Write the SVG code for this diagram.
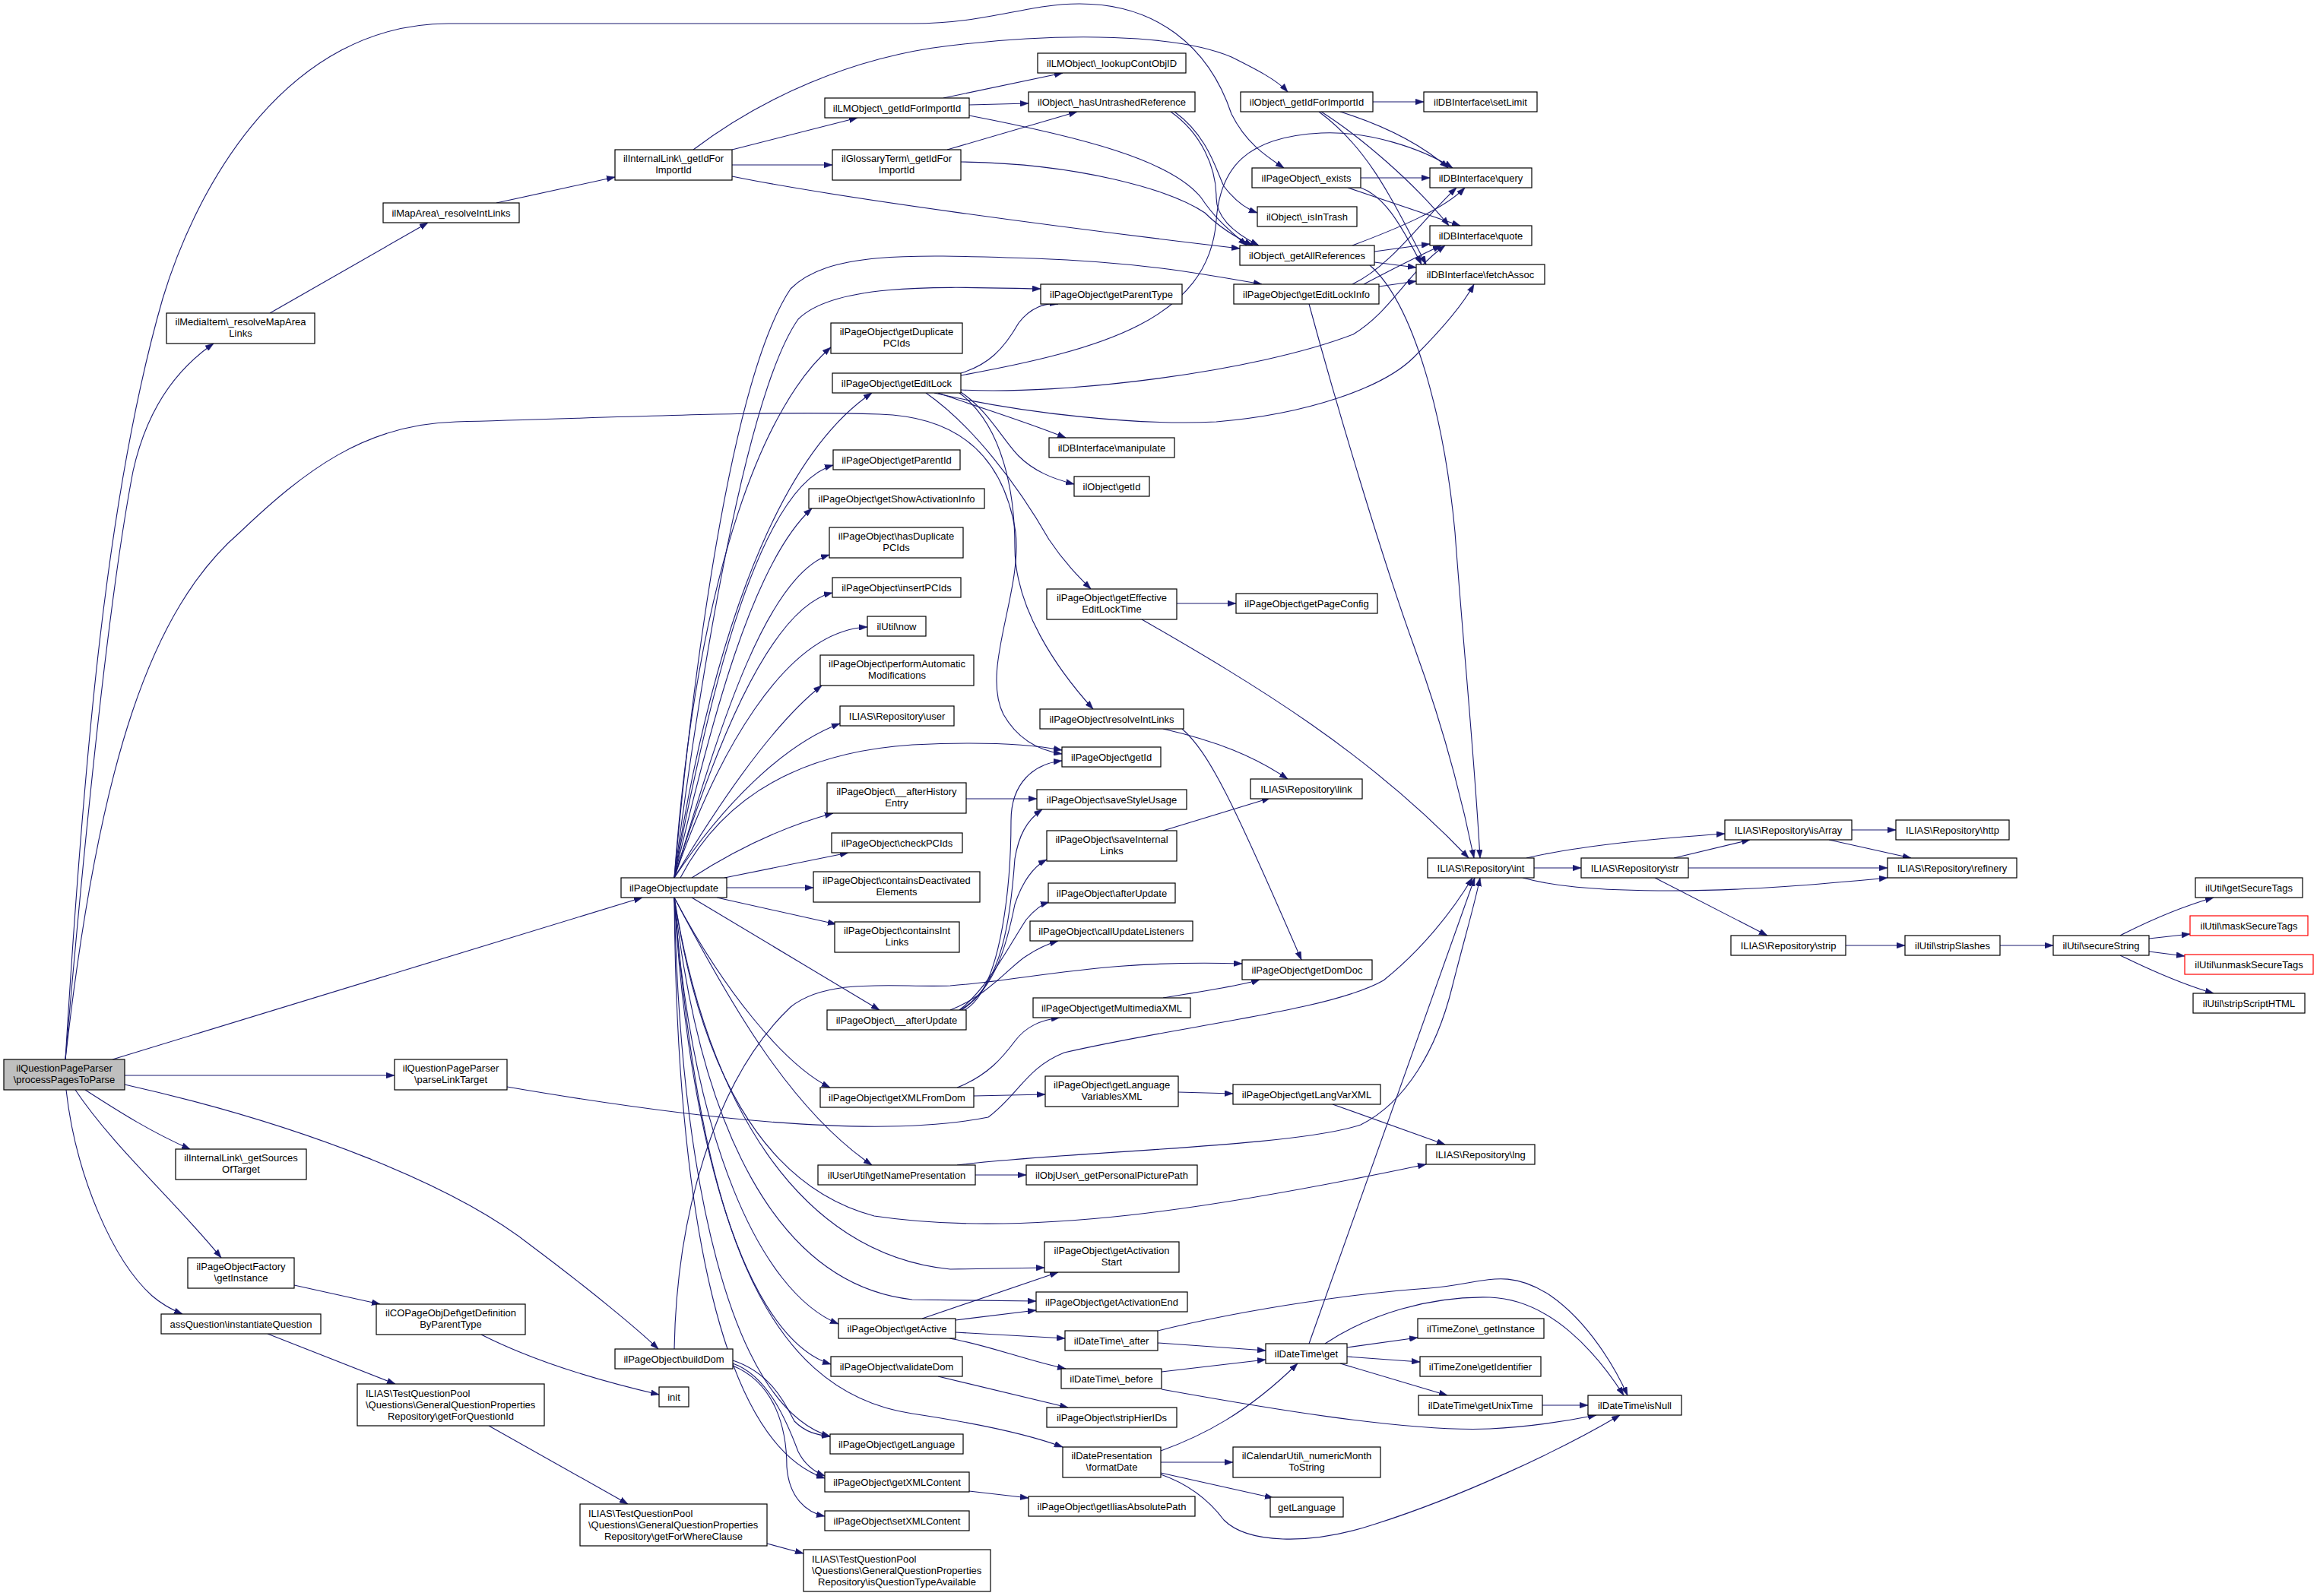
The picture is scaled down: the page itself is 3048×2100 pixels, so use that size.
<svg xmlns="http://www.w3.org/2000/svg" width="3048" height="2100" viewBox="0 0 3048 2100">
<defs>
<marker id="a" viewBox="0 0 10 7" refX="10" refY="3.5" markerWidth="11" markerHeight="8" markerUnits="userSpaceOnUse" orient="auto"><path d="M0,0 L10,3.5 L0,7 z" fill="#191970" stroke="#191970" stroke-width="0.5"/></marker>
</defs>
<style>
.n rect{fill:#ffffff;stroke:#000000;stroke-width:1.2}
.n.g rect{fill:#bfbfbf}
.n.r rect{stroke:#ff0000}
text{font-family:"Liberation Sans",Arial,Helvetica,sans-serif;font-size:13px;fill:#000000;text-anchor:middle}
text.l{text-anchor:start}
#edges path{fill:none;stroke:#191970;stroke-width:1.1;marker-end:url(#a)}
</style>
<rect x="0" y="0" width="3048" height="2100" fill="#ffffff"/>
<g id="edges">
<path d="M86,1394 C110,1000 140,650 214,393 C260,240 380,31 590,31 L1200,31 C1300,31 1350,5 1420,5 C1520,5 1590,60 1620,150 C1640,190 1668,207 1689,221"/>
<path d="M86,1394 C120,1000 150,750 175,620 C195,530 240,480 281,452"/>
<path d="M86,1394 C130,1000 200,800 316,700 C400,620 480,558 600,555 C800,550 1000,540 1157,545 C1260,548 1320,600 1336,700 C1345,780 1290,880 1320,940 C1340,975 1370,988 1397,992"/>
<path d="M148,1394 L845,1181"/>
<path d="M164,1415 L519,1415"/>
<path d="M112,1434 C160,1465 200,1490 250,1512"/>
<path d="M99,1434 C150,1510 230,1580 291,1655"/>
<path d="M87,1434 C100,1550 150,1660 200,1705 C215,1718 228,1724 240,1729"/>
<path d="M164,1427 C400,1480 600,1560 700,1640 C780,1700 840,1750 866,1775"/>
<path d="M667,1430 C900,1470 1150,1500 1300,1470 C1340,1440 1350,1405 1400,1385 C1550,1350 1750,1330 1820,1290 C1870,1250 1910,1200 1937,1155"/>
<path d="M387,1691 L500,1716"/>
<path d="M633,1756 C700,1790 780,1815 867,1835"/>
<path d="M352,1755 L520,1821"/>
<path d="M643,1876 L826,1979"/>
<path d="M1009,2031 L1057,2044"/>
<path d="M355,412 L563,293"/>
<path d="M653,267 L809,233"/>
<path d="M963,197 L1128,155"/>
<path d="M963,217 L1095,217"/>
<path d="M912,197 C1000,130 1120,75 1250,60 C1400,42 1550,45 1620,75 C1650,90 1680,105 1694,121"/>
<path d="M963,232 C1100,260 1400,300 1631,327"/>
<path d="M1241,129 L1398,96"/>
<path d="M1275,138 L1353,136"/>
<path d="M1246,197 L1417,147"/>
<path d="M1275,152 C1420,180 1540,210 1580,260 C1600,290 1620,305 1640,323"/>
<path d="M1264,213 C1420,215 1540,250 1585,280 C1605,300 1625,312 1648,323"/>
<path d="M1540,147 C1580,175 1600,220 1600,260 C1600,290 1630,310 1656,323"/>
<path d="M1545,147 C1590,180 1600,225 1610,245 C1625,265 1640,275 1654,280"/>
<path d="M1264,491 C1300,480 1320,460 1340,425 C1355,405 1375,398 1392,400"/>
<path d="M1264,494 C1450,460 1590,420 1600,290 C1605,220 1640,180 1738,175 C1800,172 1870,195 1911,221"/>
<path d="M1264,513 C1400,520 1650,490 1780,440 C1830,410 1850,360 1901,323"/>
<path d="M1229,517 C1350,545 1500,560 1600,555 C1720,545 1820,510 1860,470 C1900,430 1925,400 1939,374"/>
<path d="M1234,517 C1300,540 1350,555 1402,576"/>
<path d="M1264,516 C1300,540 1320,580 1340,600 C1360,620 1385,630 1413,637"/>
<path d="M1262,517 C1320,560 1335,650 1335,720 C1335,800 1390,880 1438,933"/>
<path d="M1218,517 C1280,560 1340,640 1380,710 C1400,740 1420,760 1435,775"/>
<path d="M1806,134 L1873,134"/>
<path d="M1763,147 C1820,165 1870,190 1905,221"/>
<path d="M1738,147 C1790,180 1860,240 1906,297"/>
<path d="M1735,147 C1800,195 1830,260 1876,348"/>
<path d="M1790,234 L1881,234"/>
<path d="M1773,247 L1921,297"/>
<path d="M1790,247 C1820,258 1840,290 1870,348"/>
<path d="M1779,323 C1840,300 1900,275 1927,247"/>
<path d="M1808,331 L1881,321"/>
<path d="M1808,345 L1863,352"/>
<path d="M1802,349 C1860,400 1900,550 1914,700 C1925,850 1940,1000 1947,1129"/>
<path d="M1779,374 C1830,350 1870,290 1916,247"/>
<path d="M1794,374 C1830,355 1870,335 1896,323"/>
<path d="M1814,377 L1863,370"/>
<path d="M1722,400 C1760,540 1820,740 1860,850 C1900,960 1925,1060 1939,1129"/>
<path d="M887,1155 C910,900 960,500 1040,380 C1090,330 1200,335 1360,340 C1500,345 1580,360 1660,374"/>
<path d="M887,1155 C920,900 980,520 1050,420 C1100,370 1250,378 1369,380"/>
<path d="M887,1155 C918,736 1011,527 1093,457"/>
<path d="M887,1155 C930,880 1010,610 1147,517"/>
<path d="M887,1155 C935,900 1000,640 1096,612"/>
<path d="M887,1155 C935,950 990,740 1068,669"/>
<path d="M887,1155 C935,1000 1000,760 1091,730"/>
<path d="M887,1155 C935,1000 1010,800 1095,780"/>
<path d="M887,1155 C940,1000 1030,830 1141,825"/>
<path d="M887,1155 C950,1050 1020,950 1081,902"/>
<path d="M887,1155 C950,1060 1030,980 1105,952"/>
<path d="M895,1155 C950,1050 1050,990 1200,980 C1300,975 1360,980 1397,987"/>
<path d="M910,1155 C980,1110 1040,1085 1096,1070"/>
<path d="M953,1155 L1116,1122"/>
<path d="M956,1168 L1070,1168"/>
<path d="M943,1181 L1100,1216"/>
<path d="M910,1181 L1157,1329"/>
<path d="M887,1181 C950,1300 1030,1400 1092,1431"/>
<path d="M887,1181 C960,1320 1040,1460 1147,1533"/>
<path d="M887,1181 C920,1400 1000,1560 1150,1600 C1350,1630 1600,1590 1876,1532"/>
<path d="M887,1181 C930,1450 1050,1650 1250,1670 L1374,1668"/>
<path d="M887,1181 C920,1480 1020,1690 1200,1710 L1363,1712"/>
<path d="M887,1181 C910,1500 1000,1700 1103,1742"/>
<path d="M887,1181 C905,1500 980,1760 1093,1795"/>
<path d="M887,1181 C895,1550 960,1850 1092,1890"/>
<path d="M887,1181 C890,1600 950,1900 1085,1945"/>
<path d="M887,1181 C920,1600 1000,1830 1200,1860 C1300,1875 1360,1890 1398,1904"/>
<path d="M964,1790 C1010,1805 1030,1840 1045,1870 C1060,1885 1075,1888 1092,1890"/>
<path d="M964,1794 C1010,1810 1035,1870 1050,1910 C1060,1930 1075,1938 1085,1942"/>
<path d="M964,1797 C1020,1820 1035,1880 1035,1930 C1038,1970 1060,1990 1085,1995"/>
<path d="M887,1775 C890,1600 940,1420 1040,1325 C1090,1285 1180,1300 1250,1297 C1350,1290 1450,1262 1634,1268"/>
<path d="M1269,1329 C1320,1300 1330,1150 1330,1080 C1330,1030 1360,1005 1397,1001"/>
<path d="M1262,1329 C1320,1300 1330,1200 1335,1130 C1340,1100 1350,1080 1371,1065"/>
<path d="M1265,1329 C1310,1300 1325,1240 1335,1190 C1345,1160 1360,1140 1377,1131"/>
<path d="M1262,1329 C1300,1300 1330,1240 1350,1210 C1360,1198 1370,1190 1380,1187"/>
<path d="M1250,1329 C1300,1310 1330,1270 1350,1258 C1365,1248 1378,1242 1392,1238"/>
<path d="M1271,1051 L1364,1051"/>
<path d="M1548,794 L1626,794"/>
<path d="M1502,815 C1650,900 1800,990 1932,1129"/>
<path d="M1530,959 C1600,975 1650,995 1694,1025"/>
<path d="M1555,959 C1590,990 1620,1050 1712,1263"/>
<path d="M1530,1093 L1671,1050"/>
<path d="M1530,1313 C1580,1305 1640,1295 1657,1289"/>
<path d="M1259,1431 C1300,1415 1320,1390 1335,1370 C1350,1350 1370,1342 1394,1339"/>
<path d="M1281,1442 L1375,1440"/>
<path d="M1550,1437 L1622,1439"/>
<path d="M1753,1453 L1901,1506"/>
<path d="M1283,1546 L1350,1546"/>
<path d="M1259,1533 C1400,1515 1700,1510 1790,1480 C1850,1450 1890,1380 1910,1300 C1925,1240 1940,1190 1947,1155"/>
<path d="M1722,1768 C1780,1600 1860,1380 1940,1155"/>
<path d="M1213,1735 L1392,1674"/>
<path d="M1257,1737 L1363,1724"/>
<path d="M1257,1753 L1401,1761"/>
<path d="M1249,1761 C1300,1770 1350,1790 1402,1801"/>
<path d="M1234,1811 L1405,1852"/>
<path d="M1523,1767 L1665,1777"/>
<path d="M1523,1751 C1650,1720 1800,1700 1880,1695 C1950,1690 1980,1665 2040,1705 C2090,1740 2125,1800 2141,1836"/>
<path d="M1528,1805 L1665,1789"/>
<path d="M1528,1828 C1650,1850 1850,1885 1960,1880 C2020,1877 2070,1868 2100,1862"/>
<path d="M1527,1909 C1580,1890 1640,1860 1707,1794"/>
<path d="M1527,1924 L1622,1924"/>
<path d="M1527,1938 L1675,1971"/>
<path d="M1527,1940 C1570,1955 1595,1980 1610,2000 C1640,2030 1720,2035 1810,2005 C1920,1970 2050,1910 2131,1862"/>
<path d="M1743,1768 C1800,1730 1880,1705 1960,1707 C2040,1710 2100,1780 2136,1836"/>
<path d="M1772,1773 L1865,1760"/>
<path d="M1772,1785 L1868,1792"/>
<path d="M1763,1794 L1904,1836"/>
<path d="M2029,1849 L2089,1849"/>
<path d="M1275,1962 L1353,1971"/>
<path d="M2018,1142 L2080,1142"/>
<path d="M2008,1129 C2060,1117 2150,1105 2269,1097"/>
<path d="M2003,1155 C2040,1165 2090,1172 2200,1172 C2300,1172 2400,1163 2483,1155"/>
<path d="M2202,1129 L2302,1105"/>
<path d="M2221,1142 L2483,1142"/>
<path d="M2177,1155 L2325,1231"/>
<path d="M2436,1092 L2494,1092"/>
<path d="M2406,1105 L2514,1129"/>
<path d="M2428,1244 L2506,1244"/>
<path d="M2631,1244 L2701,1244"/>
<path d="M2789,1231 C2830,1210 2870,1193 2912,1181"/>
<path d="M2827,1235 L2881,1229"/>
<path d="M2827,1252 L2874,1258"/>
<path d="M2789,1257 C2830,1277 2870,1295 2912,1307"/>
</g>
<g id="n_P" class="n g"><rect x="5" y="1394" width="159" height="40"/><text x="84.5" y="1410">ilQuestionPageParser</text><text x="84.5" y="1425">\processPagesToParse</text></g>
<g id="n_parseLinkTarget" class="n"><rect x="519" y="1394" width="148" height="40"/><text x="593" y="1410">ilQuestionPageParser</text><text x="593" y="1425">\parseLinkTarget</text></g>
<g id="n_getSourcesOfTarget" class="n"><rect x="231" y="1512" width="172" height="40"/><text x="317" y="1528">ilInternalLink\_getSources</text><text x="317" y="1543">OfTarget</text></g>
<g id="n_getInstance" class="n"><rect x="247" y="1655" width="140" height="40"/><text x="317" y="1671">ilPageObjectFactory</text><text x="317" y="1686">\getInstance</text></g>
<g id="n_instantiateQuestion" class="n"><rect x="212" y="1729" width="210" height="26"/><text x="317" y="1746.5">assQuestion\instantiateQuestion</text></g>
<g id="n_getDefinition" class="n"><rect x="495" y="1716" width="196" height="40"/><text x="593" y="1732">ilCOPageObjDef\getDefinition</text><text x="593" y="1747">ByParentType</text></g>
<g id="n_getForQuestionId" class="n"><rect x="470" y="1821" width="246" height="55"/><text class="l" x="481" y="1837.5">ILIAS\TestQuestionPool</text><text class="l" x="481" y="1852.5">\Questions\GeneralQuestionProperties</text><text x="593" y="1867.5">Repository\getForQuestionId</text></g>
<g id="n_getForWhereClause" class="n"><rect x="763" y="1979" width="246" height="55"/><text class="l" x="774" y="1995.5">ILIAS\TestQuestionPool</text><text class="l" x="774" y="2010.5">\Questions\GeneralQuestionProperties</text><text x="886" y="2025.5">Repository\getForWhereClause</text></g>
<g id="n_isQuestionTypeAvailable" class="n"><rect x="1057" y="2039" width="246" height="55"/><text class="l" x="1068" y="2055.5">ILIAS\TestQuestionPool</text><text class="l" x="1068" y="2070.5">\Questions\GeneralQuestionProperties</text><text x="1180" y="2085.5">Repository\isQuestionTypeAvailable</text></g>
<g id="n_init" class="n"><rect x="867" y="1825" width="39" height="26"/><text x="886.5" y="1842.5">init</text></g>
<g id="n_buildDom" class="n"><rect x="809" y="1775" width="155" height="26"/><text x="886.5" y="1792.5">ilPageObject\buildDom</text></g>
<g id="n_update" class="n"><rect x="817" y="1155" width="139" height="26"/><text x="886.5" y="1172.5">ilPageObject\update</text></g>
<g id="n_mediaItem" class="n"><rect x="219" y="412" width="195" height="40"/><text x="316.5" y="428">ilMediaItem\_resolveMapArea</text><text x="316.5" y="443">Links</text></g>
<g id="n_mapArea" class="n"><rect x="504" y="267" width="179" height="26"/><text x="593.5" y="284.5">ilMapArea\_resolveIntLinks</text></g>
<g id="n_ilGetIdForImportId" class="n"><rect x="809" y="197" width="154" height="40"/><text x="886" y="213">ilInternalLink\_getIdFor</text><text x="886" y="228">ImportId</text></g>
<g id="n_lmGetIdForImportId" class="n"><rect x="1085" y="129" width="190" height="26"/><text x="1180" y="146.5">ilLMObject\_getIdForImportId</text></g>
<g id="n_lookupContObjID" class="n"><rect x="1365" y="70" width="195" height="26"/><text x="1462.5" y="87.5">ilLMObject\_lookupContObjID</text></g>
<g id="n_hasUntrashedReference" class="n"><rect x="1353" y="121" width="219" height="26"/><text x="1462.5" y="138.5">ilObject\_hasUntrashedReference</text></g>
<g id="n_glossaryGetIdForImportId" class="n"><rect x="1095" y="197" width="169" height="40"/><text x="1179.5" y="213">ilGlossaryTerm\_getIdFor</text><text x="1179.5" y="228">ImportId</text></g>
<g id="n_objGetIdForImportId" class="n"><rect x="1632" y="121" width="174" height="26"/><text x="1719" y="138.5">ilObject\_getIdForImportId</text></g>
<g id="n_setLimit" class="n"><rect x="1873" y="121" width="149" height="26"/><text x="1947.5" y="138.5">ilDBInterface\setLimit</text></g>
<g id="n_exists" class="n"><rect x="1647" y="221" width="143" height="26"/><text x="1718.5" y="238.5">ilPageObject\_exists</text></g>
<g id="n_query" class="n"><rect x="1881" y="221" width="134" height="26"/><text x="1948" y="238.5">ilDBInterface\query</text></g>
<g id="n_isInTrash" class="n"><rect x="1654" y="272" width="131" height="26"/><text x="1719.5" y="289.5">ilObject\_isInTrash</text></g>
<g id="n_quote" class="n"><rect x="1881" y="297" width="134" height="26"/><text x="1948" y="314.5">ilDBInterface\quote</text></g>
<g id="n_getAllReferences" class="n"><rect x="1631" y="323" width="177" height="26"/><text x="1719.5" y="340.5">ilObject\_getAllReferences</text></g>
<g id="n_fetchAssoc" class="n"><rect x="1863" y="348" width="169" height="26"/><text x="1947.5" y="365.5">ilDBInterface\fetchAssoc</text></g>
<g id="n_getEditLockInfo" class="n"><rect x="1623" y="374" width="191" height="26"/><text x="1718.5" y="391.5">ilPageObject\getEditLockInfo</text></g>
<g id="n_getParentType" class="n"><rect x="1369" y="374" width="186" height="26"/><text x="1462" y="391.5">ilPageObject\getParentType</text></g>
<g id="n_getDuplicatePCIds" class="n"><rect x="1093" y="425" width="173" height="40"/><text x="1179.5" y="441">ilPageObject\getDuplicate</text><text x="1179.5" y="456">PCIds</text></g>
<g id="n_getEditLock" class="n"><rect x="1095" y="491" width="169" height="26"/><text x="1179.5" y="508.5">ilPageObject\getEditLock</text></g>
<g id="n_manipulate" class="n"><rect x="1380" y="576" width="165" height="26"/><text x="1462.5" y="593.5">ilDBInterface\manipulate</text></g>
<g id="n_objGetId" class="n"><rect x="1413" y="627" width="99" height="26"/><text x="1462.5" y="644.5">ilObject\getId</text></g>
<g id="n_getParentId" class="n"><rect x="1096" y="592" width="167" height="26"/><text x="1179.5" y="609.5">ilPageObject\getParentId</text></g>
<g id="n_getShowActivationInfo" class="n"><rect x="1064" y="643" width="231" height="26"/><text x="1179.5" y="660.5">ilPageObject\getShowActivationInfo</text></g>
<g id="n_hasDuplicatePCIds" class="n"><rect x="1091" y="694" width="176" height="40"/><text x="1179" y="710">ilPageObject\hasDuplicate</text><text x="1179" y="725">PCIds</text></g>
<g id="n_insertPCIds" class="n"><rect x="1095" y="760" width="169" height="26"/><text x="1179.5" y="777.5">ilPageObject\insertPCIds</text></g>
<g id="n_now" class="n"><rect x="1141" y="811" width="77" height="26"/><text x="1179.5" y="828.5">ilUtil\now</text></g>
<g id="n_performAutomaticModifications" class="n"><rect x="1079" y="862" width="202" height="40"/><text x="1180" y="878">ilPageObject\performAutomatic</text><text x="1180" y="893">Modifications</text></g>
<g id="n_user" class="n"><rect x="1105" y="929" width="150" height="26"/><text x="1180" y="946.5">ILIAS\Repository\user</text></g>
<g id="n_getEffectiveEditLockTime" class="n"><rect x="1377" y="775" width="171" height="40"/><text x="1462.5" y="791">ilPageObject\getEffective</text><text x="1462.5" y="806">EditLockTime</text></g>
<g id="n_resolveIntLinks" class="n"><rect x="1368" y="933" width="189" height="26"/><text x="1462.5" y="950.5">ilPageObject\resolveIntLinks</text></g>
<g id="n_pageGetId" class="n"><rect x="1397" y="983" width="130" height="26"/><text x="1462" y="1000.5">ilPageObject\getId</text></g>
<g id="n_afterHistoryEntry" class="n"><rect x="1088" y="1030" width="183" height="40"/><text x="1179.5" y="1046">ilPageObject\__afterHistory</text><text x="1179.5" y="1061">Entry</text></g>
<g id="n_saveStyleUsage" class="n"><rect x="1364" y="1039" width="197" height="26"/><text x="1462.5" y="1056.5">ilPageObject\saveStyleUsage</text></g>
<g id="n_checkPCIds" class="n"><rect x="1094" y="1096" width="172" height="26"/><text x="1180" y="1113.5">ilPageObject\checkPCIds</text></g>
<g id="n_saveInternalLinks" class="n"><rect x="1377" y="1093" width="171" height="40"/><text x="1462.5" y="1109">ilPageObject\saveInternal</text><text x="1462.5" y="1124">Links</text></g>
<g id="n_containsDeactivatedElements" class="n"><rect x="1070" y="1147" width="219" height="40"/><text x="1179.5" y="1163">ilPageObject\containsDeactivated</text><text x="1179.5" y="1178">Elements</text></g>
<g id="n_afterUpdate" class="n"><rect x="1379" y="1162" width="167" height="26"/><text x="1462.5" y="1179.5">ilPageObject\afterUpdate</text></g>
<g id="n_containsIntLinks" class="n"><rect x="1098" y="1213" width="164" height="40"/><text x="1180" y="1229">ilPageObject\containsInt</text><text x="1180" y="1244">Links</text></g>
<g id="n_callUpdateListeners" class="n"><rect x="1355" y="1212" width="214" height="26"/><text x="1462" y="1229.5">ilPageObject\callUpdateListeners</text></g>
<g id="n___afterUpdate" class="n"><rect x="1088" y="1329" width="183" height="26"/><text x="1179.5" y="1346.5">ilPageObject\__afterUpdate</text></g>
<g id="n_getMultimediaXML" class="n"><rect x="1359" y="1313" width="207" height="26"/><text x="1462.5" y="1330.5">ilPageObject\getMultimediaXML</text></g>
<g id="n_getPageConfig" class="n"><rect x="1626" y="781" width="186" height="26"/><text x="1719" y="798.5">ilPageObject\getPageConfig</text></g>
<g id="n_link" class="n"><rect x="1645" y="1025" width="147" height="26"/><text x="1718.5" y="1042.5">ILIAS\Repository\link</text></g>
<g id="n_int" class="n"><rect x="1878" y="1129" width="140" height="26"/><text x="1948" y="1146.5">ILIAS\Repository\int</text></g>
<g id="n_str" class="n"><rect x="2080" y="1129" width="141" height="26"/><text x="2150.5" y="1146.5">ILIAS\Repository\str</text></g>
<g id="n_isArray" class="n"><rect x="2269" y="1079" width="167" height="26"/><text x="2352.5" y="1096.5">ILIAS\Repository\isArray</text></g>
<g id="n_strip" class="n"><rect x="2277" y="1231" width="151" height="26"/><text x="2352.5" y="1248.5">ILIAS\Repository\strip</text></g>
<g id="n_getDomDoc" class="n"><rect x="1634" y="1263" width="171" height="26"/><text x="1719.5" y="1280.5">ilPageObject\getDomDoc</text></g>
<g id="n_http" class="n"><rect x="2494" y="1079" width="149" height="26"/><text x="2568.5" y="1096.5">ILIAS\Repository\http</text></g>
<g id="n_refinery" class="n"><rect x="2483" y="1129" width="170" height="26"/><text x="2568" y="1146.5">ILIAS\Repository\refinery</text></g>
<g id="n_stripSlashes" class="n"><rect x="2506" y="1231" width="125" height="26"/><text x="2568.5" y="1248.5">ilUtil\stripSlashes</text></g>
<g id="n_secureString" class="n"><rect x="2701" y="1231" width="126" height="26"/><text x="2764" y="1248.5">ilUtil\secureString</text></g>
<g id="n_getSecureTags" class="n"><rect x="2888" y="1155" width="141" height="26"/><text x="2958.5" y="1172.5">ilUtil\getSecureTags</text></g>
<g id="n_maskSecureTags" class="n r"><rect x="2881" y="1205" width="155" height="26"/><text x="2958.5" y="1222.5">ilUtil\maskSecureTags</text></g>
<g id="n_unmaskSecureTags" class="n r"><rect x="2874" y="1256" width="169" height="26"/><text x="2958.5" y="1273.5">ilUtil\unmaskSecureTags</text></g>
<g id="n_stripScriptHTML" class="n"><rect x="2885" y="1307" width="147" height="26"/><text x="2958.5" y="1324.5">ilUtil\stripScriptHTML</text></g>
<g id="n_getXMLFromDom" class="n"><rect x="1079" y="1431" width="202" height="26"/><text x="1180" y="1448.5">ilPageObject\getXMLFromDom</text></g>
<g id="n_getLanguageVariablesXML" class="n"><rect x="1375" y="1416" width="175" height="40"/><text x="1462.5" y="1432">ilPageObject\getLanguage</text><text x="1462.5" y="1447">VariablesXML</text></g>
<g id="n_getNamePresentation" class="n"><rect x="1076" y="1533" width="207" height="26"/><text x="1179.5" y="1550.5">ilUserUtil\getNamePresentation</text></g>
<g id="n_getPersonalPicturePath" class="n"><rect x="1350" y="1533" width="225" height="26"/><text x="1462.5" y="1550.5">ilObjUser\_getPersonalPicturePath</text></g>
<g id="n_getActivationStart" class="n"><rect x="1374" y="1634" width="177" height="40"/><text x="1462.5" y="1650">ilPageObject\getActivation</text><text x="1462.5" y="1665">Start</text></g>
<g id="n_getActivationEnd" class="n"><rect x="1363" y="1700" width="199" height="26"/><text x="1462.5" y="1717.5">ilPageObject\getActivationEnd</text></g>
<g id="n_getActive" class="n"><rect x="1103" y="1735" width="154" height="26"/><text x="1180" y="1752.5">ilPageObject\getActive</text></g>
<g id="n_after" class="n"><rect x="1401" y="1751" width="122" height="26"/><text x="1462" y="1768.5">ilDateTime\_after</text></g>
<g id="n_validateDom" class="n"><rect x="1093" y="1785" width="173" height="26"/><text x="1179.5" y="1802.5">ilPageObject\validateDom</text></g>
<g id="n_before" class="n"><rect x="1396" y="1801" width="132" height="26"/><text x="1462" y="1818.5">ilDateTime\_before</text></g>
<g id="n_stripHierIDs" class="n"><rect x="1377" y="1852" width="171" height="26"/><text x="1462.5" y="1869.5">ilPageObject\stripHierIDs</text></g>
<g id="n_pageGetLanguage" class="n"><rect x="1092" y="1887" width="175" height="26"/><text x="1179.5" y="1904.5">ilPageObject\getLanguage</text></g>
<g id="n_formatDate" class="n"><rect x="1398" y="1904" width="129" height="40"/><text x="1462.5" y="1920">ilDatePresentation</text><text x="1462.5" y="1935">\formatDate</text></g>
<g id="n_getXMLContent" class="n"><rect x="1085" y="1937" width="190" height="26"/><text x="1180" y="1954.5">ilPageObject\getXMLContent</text></g>
<g id="n_getIliasAbsolutePath" class="n"><rect x="1353" y="1969" width="219" height="26"/><text x="1462.5" y="1986.5">ilPageObject\getIliasAbsolutePath</text></g>
<g id="n_setXMLContent" class="n"><rect x="1085" y="1988" width="190" height="26"/><text x="1180" y="2005.5">ilPageObject\setXMLContent</text></g>
<g id="n_getLangVarXML" class="n"><rect x="1622" y="1427" width="194" height="26"/><text x="1719" y="1444.5">ilPageObject\getLangVarXML</text></g>
<g id="n_lng" class="n"><rect x="1876" y="1506" width="143" height="26"/><text x="1947.5" y="1523.5">ILIAS\Repository\lng</text></g>
<g id="n_tzGetInstance" class="n"><rect x="1865" y="1735" width="166" height="26"/><text x="1948" y="1752.5">ilTimeZone\_getInstance</text></g>
<g id="n_dtGet" class="n"><rect x="1665" y="1768" width="107" height="26"/><text x="1718.5" y="1785.5">ilDateTime\get</text></g>
<g id="n_tzGetIdentifier" class="n"><rect x="1868" y="1785" width="159" height="26"/><text x="1947.5" y="1802.5">ilTimeZone\getIdentifier</text></g>
<g id="n_getUnixTime" class="n"><rect x="1866" y="1836" width="163" height="26"/><text x="1947.5" y="1853.5">ilDateTime\getUnixTime</text></g>
<g id="n_isNull" class="n"><rect x="2089" y="1836" width="123" height="26"/><text x="2150.5" y="1853.5">ilDateTime\isNull</text></g>
<g id="n_numericMonth" class="n"><rect x="1622" y="1904" width="194" height="40"/><text x="1719" y="1920">ilCalendarUtil\_numericMonth</text><text x="1719" y="1935">ToString</text></g>
<g id="n_getLanguage" class="n"><rect x="1671" y="1970" width="96" height="26"/><text x="1719" y="1987.5">getLanguage</text></g>
</svg>
